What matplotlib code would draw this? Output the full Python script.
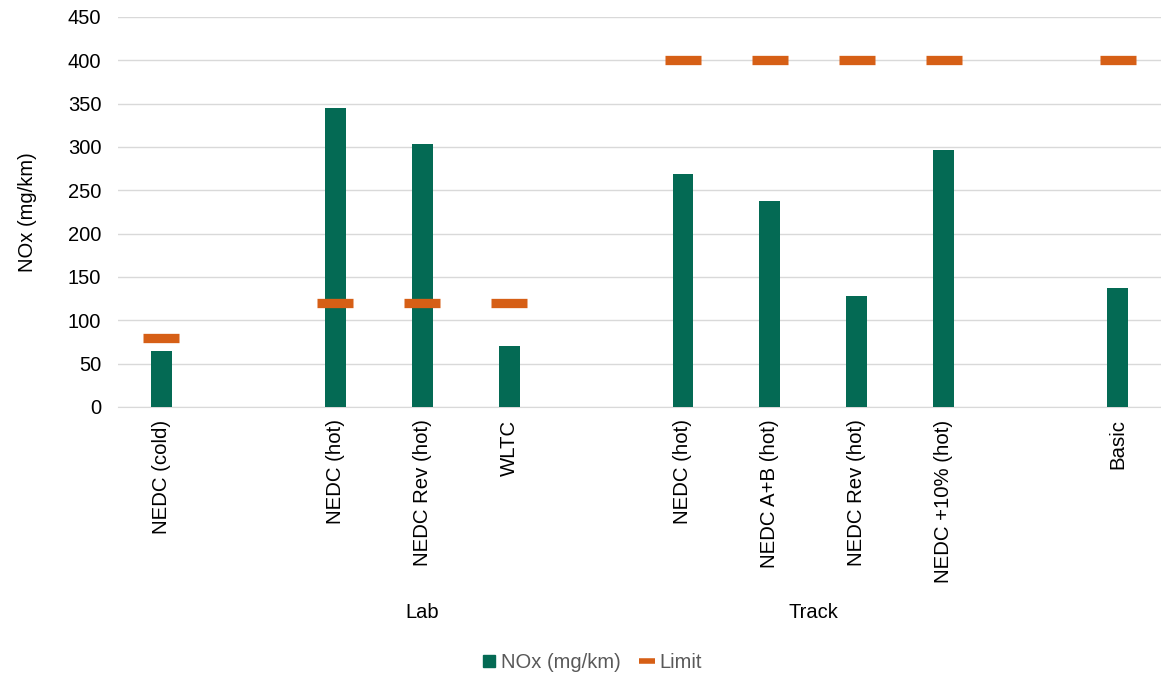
import matplotlib

matplotlib.use("Agg")
import matplotlib.pyplot as plt
import numpy as np
from matplotlib.lines import Line2D

GREEN = "#046A54"
ORANGE = "#D65F16"
GRID = "#D9D9D9"
TEXT = "#000000"
LEGEND_TEXT = "#595959"

# Blank strings are the empty spacer slots between groups.
categories = [
    "NEDC (cold)", "", "NEDC (hot)", "NEDC Rev (hot)", "WLTC", "",
    "NEDC (hot)", "NEDC A+B (hot)", "NEDC Rev (hot)", "NEDC +10% (hot)", "", "Basic",
]
nox = [65, np.nan, 345, 303, 70, np.nan, 269, 238, 128, 296, np.nan, 137]
limit = [80, np.nan, 120, 120, 120, np.nan, 400, 400, 400, 400, np.nan, 400]
group_names = ["Lab", "Track"]
group_members = [[2, 3, 4], [6, 7, 8, 9]]
y_ticks = [0, 50, 100, 150, 200, 250, 300, 350, 400, 450]

plt.rcParams["font.family"] = ["Liberation Sans", "DejaVu Sans"]

fig = plt.figure(figsize=(11.61, 6.77), dpi=100, facecolor="white")
ax = fig.add_axes([0.1016, 0.399, 0.8984, 0.576])

x = np.arange(len(categories))
ax.bar(x, nox, width=0.24, color=GREEN, zorder=3)
ax.plot(x, limit, linestyle="none", marker="_", markersize=26,
        markeredgewidth=6.7, color=ORANGE, zorder=4)

ax.set_xlim(-0.5, len(categories) - 0.5)
ax.set_ylim(0, 450)
ax.set_yticks(y_ticks)
ax.set_yticklabels([str(v) for v in y_ticks], fontsize=14.5, color=TEXT)
ax.set_xticks(x)
ax.set_xticklabels(categories, rotation=90, fontsize=14.7, color=TEXT,
                   va="top", ha="center")
ax.tick_params(axis="both", length=0)
ax.tick_params(axis="x", pad=9)
ax.tick_params(axis="y", pad=12)

ax.yaxis.grid(True, color=GRID, lw=1)
ax.set_axisbelow(True)
for side in ("top", "right", "left"):
    ax.spines[side].set_visible(False)
ax.spines["bottom"].set_color(GRID)
ax.spines["bottom"].set_zorder(2)

ax.set_ylabel("NOx (mg/km)", fontsize=14.5, color=TEXT)
ax.yaxis.set_label_coords(-0.078, 0.5)

for name, members in zip(group_names, group_members):
    ax.text(np.mean(members), -0.528, name, transform=ax.get_xaxis_transform(),
            ha="center", va="center", fontsize=14.5, color=TEXT)

handles = [
    Line2D([], [], linestyle="none", marker="s", markersize=9,
           color=GREEN),
    Line2D([], [], linestyle="none", marker="_", markersize=11,
           markeredgewidth=4, color=ORANGE),
]
leg = fig.legend(handles, ["NOx (mg/km)", "Limit"], loc="center",
                 bbox_to_anchor=(0.51, 0.021), ncol=2, frameon=False,
                 fontsize=14.5, handlelength=0.6, handletextpad=0.3,
                 columnspacing=1.0)
for t in leg.get_texts():
    t.set_color(LEGEND_TEXT)

fig.savefig("out.png", dpi=100, facecolor="white")
